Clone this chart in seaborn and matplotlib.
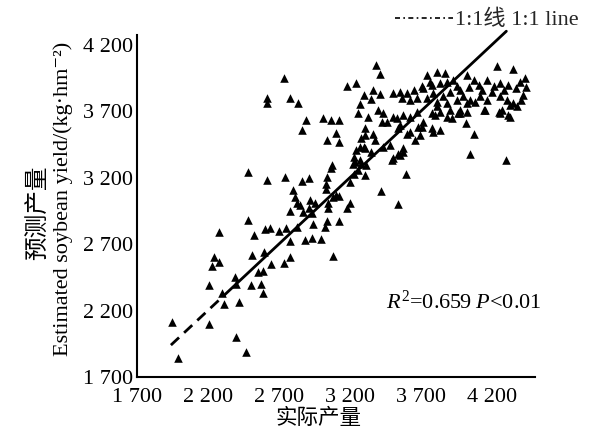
import matplotlib
matplotlib.use("Agg")
import matplotlib.pyplot as plt
import seaborn as sns
import pandas as pd
from matplotlib.lines import Line2D

# ---- data ----
actual = [
    1950, 1990, 2210, 2210, 2280, 2240, 2280, 2230, 2300, 2310, 2400, 2470, 2390, 2400, 2420,
    2480, 2480, 2500, 2510, 2525, 2555, 2590, 2575, 2585, 2595, 2600, 2640, 2645, 2615, 2700,
    2750, 2735, 2745, 2775, 2780, 2780, 2800, 2815, 2825, 2830,
    2735, 2615, 2615, 2780, 2835, 2890, 2865, 3010, 3065, 3120, 3100, 3035, 3125, 3180, 3240,
    3295, 3270, 3255, 3325, 3305, 3280, 3305, 3240, 3225, 3220, 3270, 3065, 3075, 2860, 2915,
    3035, 3030, 3030, 2955, 2915, 3100, 3125, 3200, 3225, 3305, 3200,
    3315, 3280, 3495, 3540, 3575, 3595, 3420, 3540, 2935, 3045, 3035, 3025, 3120, 2940, 2930,
    2885, 2995, 3080, 2850, 3080, 3255, 2920, 3045, 3180, 2870,
    3385, 3410, 3360, 3410, 3350, 3400, 3435, 3425, 3460, 3505, 3550, 3600, 3650, 3565, 3620,
    3670, 3505, 3575, 3620, 3670, 3740, 3810, 3870, 3715, 3775, 3835, 3880, 3740, 3810, 3855,
    3775, 3835, 3880, 3715, 3785, 3835, 3540, 3620, 3695, 3705, 3305, 3365, 3375, 3270, 3435,
    3480, 3575, 3550, 3505, 3235, 3295, 3350, 3530, 3550, 3680, 3775, 3600, 3660, 3800, 3915,
    3810, 3880, 3950, 3705, 3760, 3925, 3950, 3785, 3905, 3975,
    4235, 4350, 4395, 4430, 4420, 4375, 4325, 4315, 4270, 4245, 4150, 4080, 4020, 3975, 4015,
    4070, 4045, 4300, 4020, 4070, 4105, 4165, 4210, 4255, 4315, 3995, 4045, 4115, 4165, 4255,
    4305, 4350, 4140, 4255, 4325, 3975, 4020, 3905, 3960, 4040, 4130, 4200, 4280, 4370, 4440,
    4400,
]
predicted = [
    2110, 1840, 2100, 2390, 2790, 2600, 2565, 2535, 2335, 2250, 2000, 1890, 2450, 2400, 2265,
    2880, 3240, 2390, 2615, 2770, 2490, 2495, 2400, 2330, 2640, 2815, 2820, 2550, 3180, 2795,
    2820, 2555, 3205, 2720, 2600, 2945, 3105, 3055, 3005, 2830,
    3950, 3795, 3760, 3795, 3760, 3630, 3555, 3645, 3630, 3630, 3535, 3480, 3470, 3890, 3910,
    3820, 3755, 3685, 3655, 3570, 3495, 3420, 3405, 3355, 3305, 3330, 3275, 3295, 3175, 3200,
    3205, 3155, 3110, 3005, 2970, 3070, 3060, 3005, 3230, 3220, 3170,
    3295, 3300, 3330, 3380, 3395, 3230, 3100, 3000, 2930, 2970, 2875, 2830, 2870, 2850, 2745,
    2730, 2735, 2610, 2995, 3055, 3255, 3030, 3010, 2970, 2940,
    4045, 3975, 3860, 3825, 3790, 3710, 3685, 3620, 3620, 3835, 3845, 3835, 3860, 3795, 3785,
    3795, 3655, 3670, 3655, 3695, 3970, 3995, 3985, 3870, 3895, 3910, 3920, 3795, 3770, 3810,
    3685, 3695, 3655, 3620, 3545, 3555, 3570, 3545, 3520, 3580, 3520, 3530, 3480, 3430, 3430,
    3445, 3420, 3370, 3345, 3320, 3430, 3395, 3645, 3595, 3580, 3570, 3530, 3480, 3670, 3645,
    3735, 3760, 3785, 3885, 3915, 3935, 3885, 3835, 3845, 3860,
    4035, 4015, 3920, 3945, 3820, 3735, 3745, 3670, 3710, 3695, 3710, 3770, 3695, 3685, 3610,
    3525, 3375, 3330, 3970, 3935, 3895, 3935, 3885, 3910, 3895, 3810, 3785, 3810, 3785, 3810,
    3785, 3760, 3710, 3685, 3655, 3710, 3760, 3710, 3685, 3880, 3860, 3840, 3860, 3870, 3880,
    3780,
]
line_dashed = [1940, 2320]
line_solid = [2320, 4300]
xtick_values = [1700, 2200, 2700, 3200, 3700, 4200]
xtick_labels = ["1 700", "2 200", "2 700", "3 200", "3 700", "4 200"]
ytick_values = [1700, 2200, 2700, 3200, 3700, 4200]
ytick_labels = ["1 700", "2 200", "2 700", "3 200", "3 700", "4 200"]
x_label = "实际产量"
y_label_cn = "预测产量"
y_label_en = "Estimated soybean yield/(kg·hm⁻²)"
legend_label = "1:1线 1:1 line"
stat_text = r"$R^2$=0.659 $P$<0.01"

df = pd.DataFrame({"actual": actual, "predicted": predicted})

sns.set_theme(style="white")
fam = ["Liberation Serif", "Noto Sans CJK SC", "DejaVu Serif"]
plt.rcParams["font.family"] = fam
plt.rcParams["mathtext.fontset"] = "custom"
plt.rcParams["mathtext.rm"] = "Liberation Serif"
plt.rcParams["mathtext.it"] = "Liberation Serif:italic"

fig = plt.figure(figsize=(6, 4.33), dpi=100)
ax = fig.add_axes([0.228, 0.1293, 0.664, 0.79])

sns.scatterplot(data=df, x="actual", y="predicted", marker="^", color="black",
                s=38, linewidth=0, ax=ax, zorder=3)
ax.plot(line_dashed, line_dashed, color="black", lw=2.0, ls=(0, (4, 2.5)), zorder=4)
ax.plot(line_solid, line_solid, color="black", lw=2.0, zorder=4, clip_on=False)

ax.set_xlim(1700, 4503)
ax.set_ylim(1700, 4272)
ax.set_xticks(xtick_values)
ax.set_xticklabels(xtick_labels)
ax.set_yticks(ytick_values)
ax.set_yticklabels(ytick_labels)
ax.tick_params(direction="in", length=4, width=1.2, labelsize=16, colors="black")
ax.tick_params(axis="x", pad=8)
ax.tick_params(axis="y", pad=3)

for s in ["top", "right"]:
    ax.spines[s].set_visible(False)
for s in ["left", "bottom"]:
    ax.spines[s].set_linewidth(1.5)
    ax.spines[s].set_color("black")

ax.set_xlabel("")
ax.set_ylabel("")
fig.text(318 / 600, 1 - 419 / 433, x_label, fontsize=15.5, color="black",
         ha="center", va="center")
fig.text(63 / 600, 1 - 199 / 433, y_label_en, fontsize=16, color="black",
         ha="center", va="center", rotation=90)
fig.text(38 / 600, 1 - 213 / 433, y_label_cn, fontsize=17, color="black",
         ha="center", va="center", rotation=90)

ax.text(0.625, 0.2, stat_text, transform=ax.transAxes, fontsize=16, color="black",
        va="baseline")

handle = Line2D([], [], color="black", lw=1.2, ls=(0, (3, 2, 1, 2)))
fig.legend([handle], [legend_label], loc="upper right",
           bbox_to_anchor=(0.98, 0.998), frameon=False, fontsize=16,
           handlelength=2.6, handletextpad=0.1, borderaxespad=0)

fig.savefig("out.png", dpi=100, facecolor="white")
